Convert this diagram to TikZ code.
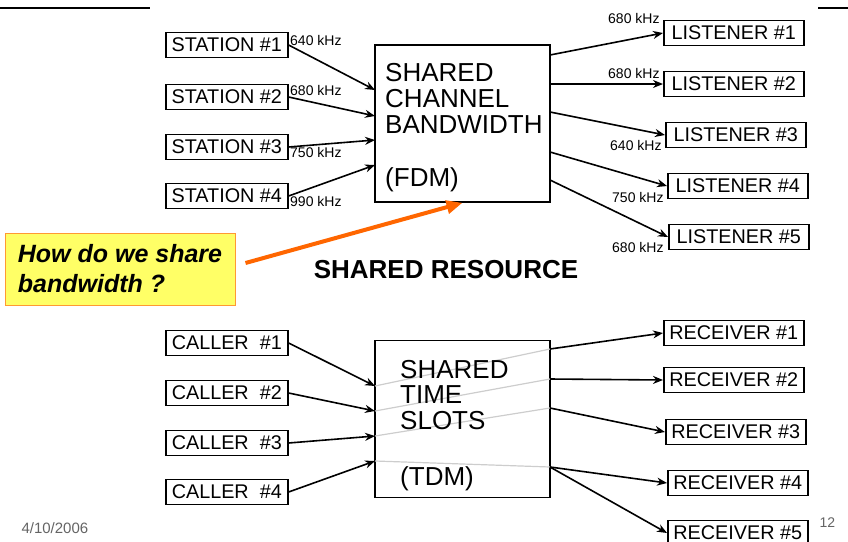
\documentclass[tikz,border=0pt]{standalone}
\usepackage{fontspec}
\setmainfont{Liberation Sans}
\usetikzlibrary{arrows.meta}
\definecolor{askfill}{RGB}{255,255,102}
\definecolor{askline}{RGB}{255,153,51}
\definecolor{pointer}{RGB}{255,102,0}
\definecolor{slotline}{RGB}{205,205,205}
\definecolor{footer}{RGB}{100,100,100}
\tikzset{
  endbox/.style={draw,line width=1.6pt,anchor=west,inner sep=0pt,minimum height=25pt,font=\fontsize{19.8}{22}\selectfont},
  hub/.style={draw,line width=1.6pt,minimum width=175pt,minimum height=157pt},
  hubtext/.style={anchor=north west,inner sep=0pt,align=left},
  freq/.style={anchor=west,inner sep=0pt,font=\fontsize{14}{15}\selectfont},
  link/.style={->,line width=1.6pt},
}
\begin{document}
\begin{tikzpicture}[x=1pt,y=-1pt,>={Stealth[length=10pt,width=8pt]}]
\useasboundingbox (0,0) rectangle (848,541);
\draw[line width=1.2pt] (0,8) -- (150,8);
\draw[line width=1.2pt] (818,8) -- (848,8);

% frequency division
\node[hub] (fdm) at (462.5,123.5) {};
\node[hubtext,font=\fontsize{26}{26}\selectfont] (fdmtext) at (385,63) {SHARED\\CHANNEL\\BANDWIDTH\\[27pt](FDM)};
\foreach \i/\y in {1/45,2/97,3/147,4/196}
  \node[endbox,minimum width=122pt] (station\i) at (165,\y) {STATION \#\i};
\foreach \i/\x/\y in {1/663/33,2/663/84,3/665/135,4/667/186,5/668/237}
  \node[endbox,minimum width=140pt] (listener\i) at (\x,\y) {LISTENER \#\i};
\foreach \i/\y in {1/90,2/116,3/140,4/165}
  \coordinate (fin\i) at (375,\y);
\foreach \i/\y in {1/55,2/84,3/112,4/152,5/180}
  \coordinate (fout\i) at (550,\y);
\foreach \i in {1,...,4}
  \draw[link] (station\i.east) -- (fin\i);
\foreach \i in {1,...,5}
  \draw[link] (fout\i) -- (listener\i.west);
\node[freq] at (290,40) {640 kHz};
\node[freq] at (290,90) {680 kHz};
\node[freq] at (290,152) {750 kHz};
\node[freq] at (290,201) {990 kHz};
\node[freq] at (608,18) {680 kHz};
\node[freq] at (608,73) {680 kHz};
\node[freq] at (610,145) {640 kHz};
\node[freq] at (612,197) {750 kHz};
\node[freq] at (612,247) {680 kHz};

\node[font=\fontsize{26}{26}\selectfont\bfseries] (resource) at (446,270) {SHARED RESOURCE};
\node[draw=askline,fill=askfill,line width=1pt,minimum width=230pt,minimum height=72pt,align=left,
  font=\fontsize{25}{30}\selectfont\bfseries\itshape] (ask) at (120,269) {How do we share\\bandwidth ?};
\draw[pointer,line width=4pt,-{Triangle[length=16pt,width=13pt]}] ([xshift=10pt,yshift=6pt]ask.east) -- (fdm.south);

% time division
\node[hub] (tdm) at (462.5,419) {};
\foreach \i/\y in {1/386,2/411,3/436,4/461}
  \coordinate (tin\i) at (375,\y);
\foreach \i/\y in {1/349,2/379,3/408,4/467}
  \coordinate (tout\i) at (550,\y);
\foreach \i in {1,...,4}
  \draw[slotline,line width=1.2pt] (tin\i) -- (tout\i);
\node[hubtext,font=\fontsize{26}{25.5}\selectfont] (tdmtext) at (400,360) {SHARED\\TIME\\SLOTS\\[31pt](TDM)};
\foreach \i/\y in {1/343,2/393,3/443,4/492}
  \node[endbox,minimum width=122pt] (caller\i) at (165,\y) {CALLER\ \ \#\i};
\foreach \i/\x/\y in {1/663/333,2/663/380,3/665/432,4/667/483,5/667/533}
  \node[endbox,minimum width=140pt] (receiver\i) at (\x,\y) {RECEIVER \#\i};
\foreach \i in {1,...,4}
  \draw[link] (caller\i.east) -- (tin\i);
\foreach \i in {1,...,4}
  \draw[link] (tout\i) -- (receiver\i.west);
\draw[link] (tout4) -- (receiver5.west);

\node[anchor=west,text=footer,font=\fontsize{15}{15}\selectfont] (date) at (18,528) {4/10/2006};
\node[anchor=west,text=footer,font=\fontsize{14}{14}\selectfont] (page) at (816,523) {12};
\end{tikzpicture}
\end{document}
